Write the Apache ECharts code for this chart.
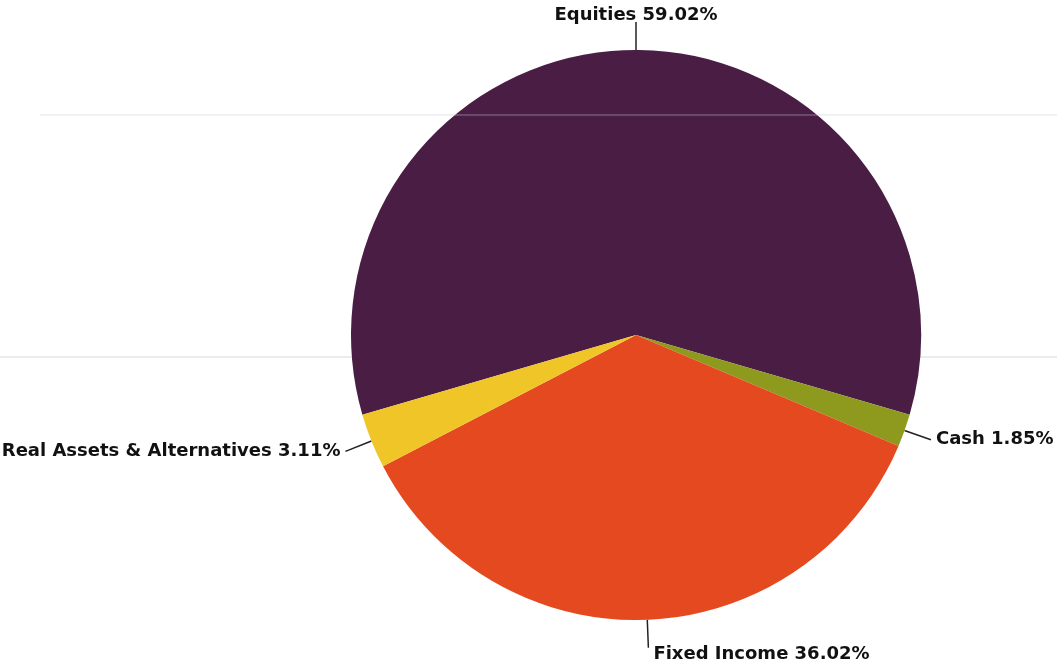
<!DOCTYPE html>
<html>
<head>
<meta charset="utf-8">
<script src="https://cdn.jsdelivr.net/npm/echarts@6/dist/echarts.min.js"></script>
<style>
  html, body { margin: 0; padding: 0; background: #ffffff; }
  #chart { width: 1057px; height: 664px; }
</style>
</head>
<body>
<div id="chart"></div>
<script>
// Asset allocation shares (percent of portfolio)
const categories = ['Equities', 'Cash', 'Fixed Income', 'Real Assets & Alternatives'];
const shares = [59.02, 1.85, 36.02, 3.11];
const sliceColors = ['#4a1e44', '#8e9a1d', '#e4491f', '#efc527'];

const chart = echarts.init(document.getElementById('chart'), null, { renderer: 'canvas' });

// Equities is centred at the top, so the first slice starts half its sweep left of 12 o'clock
const startAngle = 90 + (shares[0] / 100) * 360 / 2;

chart.setOption({
  animation: false,
  backgroundColor: '#ffffff',
  graphic: [
    { type: 'line', z: -10, shape: { x1: 0, y1: 357, x2: 1057, y2: 357 },
      style: { stroke: '#e6e6e6', lineWidth: 1.5 } },
    { type: 'line', z: 100, shape: { x1: 40, y1: 115, x2: 1057, y2: 115 },
      style: { stroke: 'rgba(200,200,215,0.35)', lineWidth: 1.5 } }
  ],
  series: [{
    type: 'pie',
    center: [636, 335],
    radius: 285,
    startAngle: startAngle,
    clockwise: true,
    avoidLabelOverlap: false,
    data: categories.map((name, i) => ({
      name: name,
      value: shares[i],
      itemStyle: { color: sliceColors[i] }
    })),
    itemStyle: { borderWidth: 0 },
    label: {
      show: true,
      position: 'outside',
      formatter: p => p.name + ' ' + p.value.toFixed(2) + '%',
      fontFamily: '"DejaVu Sans", Verdana, sans-serif',
      fontWeight: 'bold',
      fontSize: 18,
      color: '#111111',
      distanceToLabelLine: 5
    },
    labelLine: {
      show: true,
      length: 28,
      length2: 0,
      smooth: false,
      lineStyle: { color: '#222222', width: 1.5 }
    },
    // top label sits centred above its leader; bottom label hangs below its leader
    labelLayout: function (params) {
      if (params.dataIndex === 0) {
        return { align: 'center', verticalAlign: 'bottom', dx: 5, dy: 2 };
      }
      if (params.dataIndex === 2) {
        return { verticalAlign: 'top', dy: -2 };
      }
      return {};
    },
    emphasis: { disabled: true }
  }]
});
</script>
</body>
</html>
